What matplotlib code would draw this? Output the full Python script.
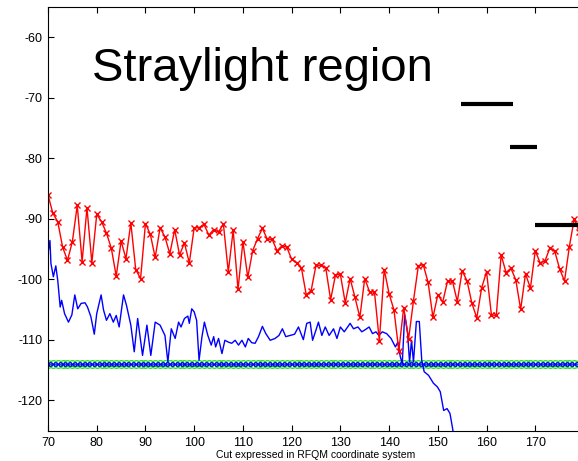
import numpy as np
import matplotlib.pyplot as plt

plt.rcParams['font.family'] = ['Liberation Sans', 'DejaVu Sans']
plt.rcParams['axes.unicode_minus'] = False

# red measured curve, one point per unit of cut position
red_x = np.arange(70, 180)
red_y = [-86.1, -89.1, -90.5, -94.7, -96.9, -93.8, -87.8, -97.1, -88.2, -97.3,
         -89.3, -90.5, -92.4, -94.9, -99.5, -93.7, -96.6, -90.7, -98.4, -99.9,
         -90.8, -92.6, -96.4, -91.5, -93.0, -95.8, -91.8, -96.0, -94.0, -97.3,
         -91.5, -91.5, -90.9, -92.7, -91.8, -92.2, -90.9, -98.8, -91.9, -101.7,
         -93.8, -99.7, -95.3, -93.3, -91.6, -93.4, -93.4, -95.3, -94.5, -94.7,
         -96.7, -97.3, -98.1, -102.6, -101.9, -97.7, -97.7, -98.1, -103.4, -99.3,
         -99.2, -103.9, -99.9, -103.0, -106.3, -99.9, -102.1, -102.1, -110.2, -98.4,
         -102.4, -105.1, -111.8, -104.7, -109.9, -103.6, -97.8, -97.6, -100.5, -106.3,
         -102.6, -103.8, -100.3, -100.3, -103.7, -98.6, -100.3, -104.0, -106.4, -101.4,
         -98.8, -105.9, -106.0, -96.0, -98.9, -98.2, -100.1, -105.0, -99.1, -101.5,
         -95.3, -97.3, -97.0, -94.8, -95.4, -98.3, -100.3, -94.6, -90.0, -92.2]

# blue curve
blue_x = [70.0, 70.4, 70.6, 71.1, 71.6, 72.0, 72.5, 72.8, 73.4, 74.2, 74.9, 75.5,
          76.1, 76.8, 77.6, 78.1, 78.8, 79.5, 80.0, 80.9, 81.4, 82.0, 82.7, 83.4,
          84.0, 84.6, 85.5, 86.1, 87.0, 87.7, 88.4, 89.4, 90.3, 91.1, 92.0, 93.0,
          94.0, 94.6, 95.3, 96.1, 96.8, 97.3, 98.0, 98.7, 99.0, 99.5, 100.0, 100.5,
          101.0, 101.6, 102.1, 102.8, 103.5, 104.0, 104.4, 105.0, 105.7, 106.3, 107.0, 107.7,
          108.4, 109.1, 109.8, 110.5, 111.1, 111.8, 112.5, 113.2, 114.0, 114.7, 115.6, 116.6,
          117.4, 118.1, 118.8, 119.7, 120.6, 121.4, 122.4, 123.1, 123.8, 124.3, 125.0, 125.5,
          126.2, 126.9, 127.7, 128.6, 129.3, 130.0, 130.8, 131.5, 132.0, 132.7, 133.6, 134.4,
          135.2, 135.9, 136.6, 137.3, 137.9, 138.6, 139.5, 140.4, 141.3, 141.8, 142.3, 142.7,
          143.2, 143.5, 143.8, 144.2, 144.6, 145.0, 145.6, 146.2, 146.7, 147.2, 148.1, 149.1,
          149.9, 150.5, 151.2, 151.9, 152.5, 153.1]
blue_y = [-95.7, -93.6, -97.4, -99.6, -97.8, -100.2, -104.6, -103.5, -105.7, -107.1, -105.9, -102.6,
          -104.9, -104.0, -103.9, -104.6, -106.2, -109.1, -105.7, -102.6, -105.1, -106.8, -105.7, -107.1,
          -106.0, -107.9, -102.6, -104.3, -107.6, -112.0, -106.5, -112.6, -107.6, -112.6, -107.1, -107.6,
          -109.3, -113.7, -108.2, -109.8, -107.1, -107.9, -106.5, -106.1, -107.3, -104.9, -105.4, -106.8,
          -113.4, -109.5, -107.1, -109.3, -110.9, -109.5, -111.2, -109.8, -112.3, -110.1, -110.4, -110.6,
          -110.1, -110.9, -110.1, -111.2, -109.8, -110.5, -110.6, -109.5, -107.8, -109.0, -110.1, -109.8,
          -109.3, -108.2, -109.5, -109.3, -109.1, -107.9, -110.0, -107.3, -107.1, -110.1, -108.4, -107.1,
          -109.3, -107.9, -109.3, -108.2, -109.8, -107.9, -108.7, -107.9, -107.3, -108.2, -107.9, -108.7,
          -108.3, -107.9, -109.0, -108.7, -109.3, -108.7, -109.0, -109.8, -111.2, -110.4, -112.8, -114.0,
          -105.9, -107.3, -109.0, -113.7, -110.1, -113.7, -107.0, -107.0, -113.4, -115.3, -115.9, -117.2,
          -117.8, -118.6, -121.7, -121.4, -122.2, -125.0]

# flat reference level
level_x = np.arange(70, 181, 1.0)
level_y = -114.0

# black level marks (x start, x end, y)
marks = [(154.8, 165.5, -71.1), (164.9, 170.4, -78.2), (170.0, 181.0, -91.1)]

fig = plt.figure(figsize=(5.78, 4.61), dpi=100)
ax = fig.add_axes([48 / 578, 30 / 461, 536 / 578, 424 / 461])

flat = np.full(len(level_x), level_y)
ax.plot(level_x, flat - 0.35, color='#00dd00', lw=0.8, ls='--', dashes=(3, 2))
ax.plot(level_x, flat, ls='none', marker='o', ms=5.5, mfc='none', mec='#22dd22', mew=0.9)
ax.plot(level_x + 0.5, flat, ls='none', color='blue',
        marker='o', ms=2.6, mfc='none', mew=0.7)
ax.plot(level_x, flat, color='blue', lw=0.5,
        marker='x', ms=2.6, mew=0.7)

ax.plot(blue_x, blue_y, color='blue', lw=1.0)
ax.plot(red_x, red_y, color='red', lw=1.0, marker='x', ms=3.8, mew=1.0)

for x0, x1, y in marks:
    ax.plot([x0, x1], [y, y], color='black', lw=3, solid_capstyle='butt')

ax.set_xlim(70, 180)
ax.set_ylim(-125.1, -55)
ax.set_xticks(np.arange(70, 180, 10))
ax.set_yticks(np.arange(-120, -55, 10))
ax.tick_params(direction='in', length=4, top=True, right=True, labelsize=9, pad=4)
ax.set_xlabel('Cut expressed in RFQM coordinate system', fontsize=7.5, labelpad=1)

fig.text(92 / 578, 1 - 81 / 461, 'Straylight region', fontsize=34, ha='left', va='baseline')

fig.savefig('out.png', dpi=100)
